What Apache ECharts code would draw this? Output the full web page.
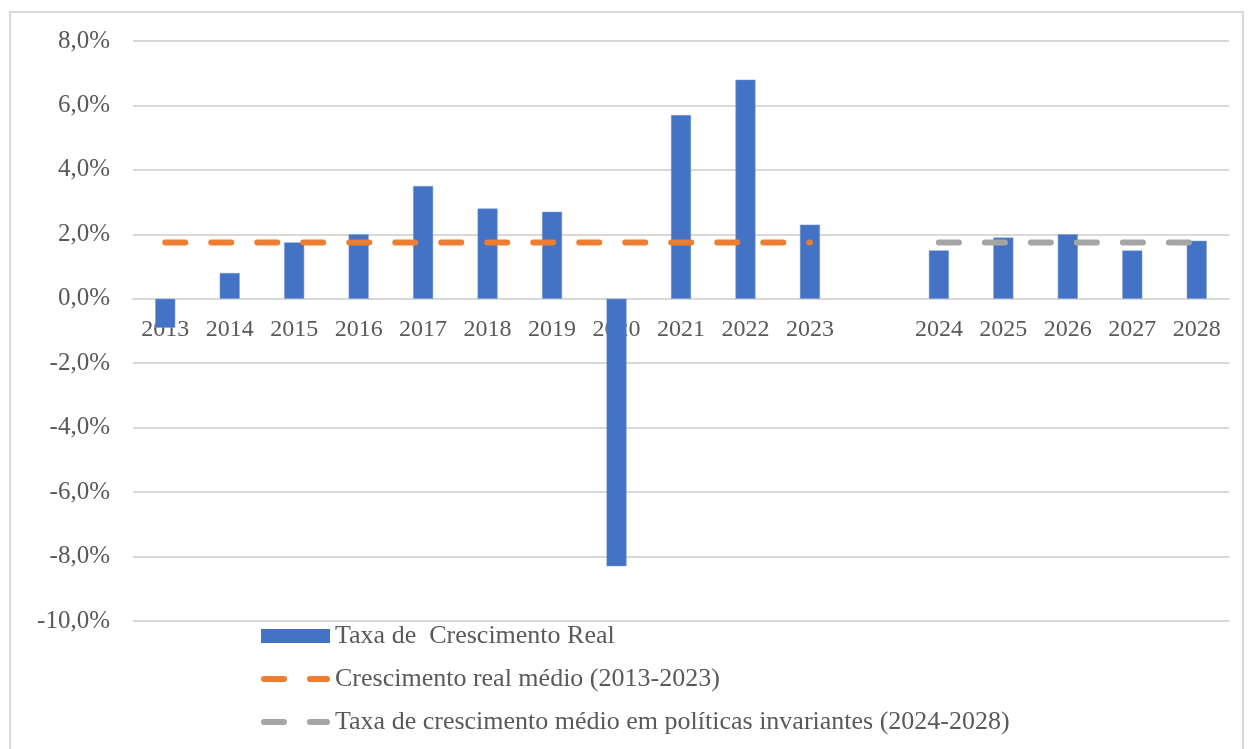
<!DOCTYPE html>
<html lang="pt">
<head>
    <meta charset="UTF-8">
    <title>Taxa de Crescimento Real</title>
    <style>
        html, body { margin: 0; padding: 0; background: #fff; }
        #main { width: 1248px; height: 749px; }
    </style>
</head>
<body>
<div id="main"></div>
<script src="https://cdn.jsdelivr.net/npm/echarts@6/dist/echarts.min.js"></script>
<script type="text/javascript">
    // dados
    var anos = ['2013', '2014', '2015', '2016', '2017', '2018', '2019', '2020', '2021', '2022', '2023', '',
        '2024', '2025', '2026', '2027', '2028'];
    var taxaReal = [-0.9, 0.8, 1.75, 2.0, 3.5, 2.8, 2.7, -8.3, 5.7, 6.8, 2.3, null,
        1.5, 1.9, 2.0, 1.5, 1.8];
    var mediaReal = [1.75, 1.75, 1.75, 1.75, 1.75, 1.75, 1.75, 1.75, 1.75, 1.75, 1.75, null,
        null, null, null, null, null];
    var mediaInvariantes = [null, null, null, null, null, null, null, null, null, null, null, null,
        1.75, 1.75, 1.75, 1.75, 1.75];
    var nomes = ['Taxa de  Crescimento Real', 'Crescimento real médio (2013-2023)',
        'Taxa de crescimento médio em políticas invariantes (2024-2028)'];

    var fonte = 'Liberation Serif';
    var cinzaTexto = '#595959';
    // icone de legenda: dois tracos
    var iconeTracejado = 'path://M0,0 M69,14 M3,4 h20 a3,3 0 0 1 0,6 h-20 a3,3 0 0 1 0,-6 z M49,4 h17 a3,3 0 0 1 0,6 h-17 a3,3 0 0 1 0,-6 z';

    var myChart = echarts.init(document.getElementById('main'));

    var yMin = -10, yMax = 8;
    var gridTop = 41, gridBottom = 128;
    var alturaGrid = 749 - gridTop - gridBottom;
    // desloca o eixo x para a linha do zero
    var deslocZero = -alturaGrid * (0 - yMin) / (yMax - yMin);

    var option = {
        animation: false,
        graphic: [{
            type: 'rect',
            shape: {x: 10, y: 12, width: 1233, height: 760},
            style: {fill: 'none', stroke: '#d9d9d9', lineWidth: 2},
            silent: true
        }],
        legend: {
            orient: 'vertical',
            left: 256,
            top: 618,
            itemWidth: 69,
            itemHeight: 14,
            itemGap: 17,
            textStyle: {fontFamily: fonte, fontSize: 26, color: cinzaTexto, lineHeight: 26},
            data: [
                {name: nomes[0], icon: 'rect', itemStyle: {borderWidth: 0}},
                {name: nomes[1], icon: iconeTracejado},
                {name: nomes[2], icon: iconeTracejado}
            ]
        },
        grid: {left: 133, right: 19, top: gridTop, bottom: gridBottom},
        xAxis: {
            type: 'category',
            data: anos,
            offset: deslocZero,
            axisLine: {onZero: false, lineStyle: {color: '#d9d9d9', width: 2}},
            axisTick: {show: false},
            axisLabel: {interval: 0, margin: 19, fontFamily: fonte, fontSize: 24, color: cinzaTexto}
        },
        yAxis: {
            type: 'value',
            min: yMin,
            max: yMax,
            interval: 2,
            axisLine: {show: false},
            axisTick: {show: false},
            splitLine: {lineStyle: {color: '#d9d9d9', width: 2}},
            axisLabel: {
                margin: 23,
                fontFamily: fonte, fontSize: 25, color: cinzaTexto,
                formatter: function (v) {
                    return v.toFixed(1).replace('.', ',') + '%';
                }
            }
        },
        series: [{
            name: nomes[0],
            type: 'bar',
            barWidth: 20,
            itemStyle: {color: '#4472C4', borderColor: '#7a9bd6', borderWidth: 0.5},
            data: taxaReal
        }, {
            name: nomes[1],
            type: 'line',
            symbol: 'none',
            lineStyle: {color: '#ED7D31', width: 6, type: [20, 26], cap: 'round'},
            itemStyle: {color: '#ED7D31'},
            data: mediaReal
        }, {
            name: nomes[2],
            type: 'line',
            symbol: 'none',
            lineStyle: {color: '#A5A5A5', width: 6, type: [20, 26], cap: 'round'},
            itemStyle: {color: '#A5A5A5'},
            data: mediaInvariantes
        }]
    };

    myChart.setOption(option);
</script>
</body>
</html>
